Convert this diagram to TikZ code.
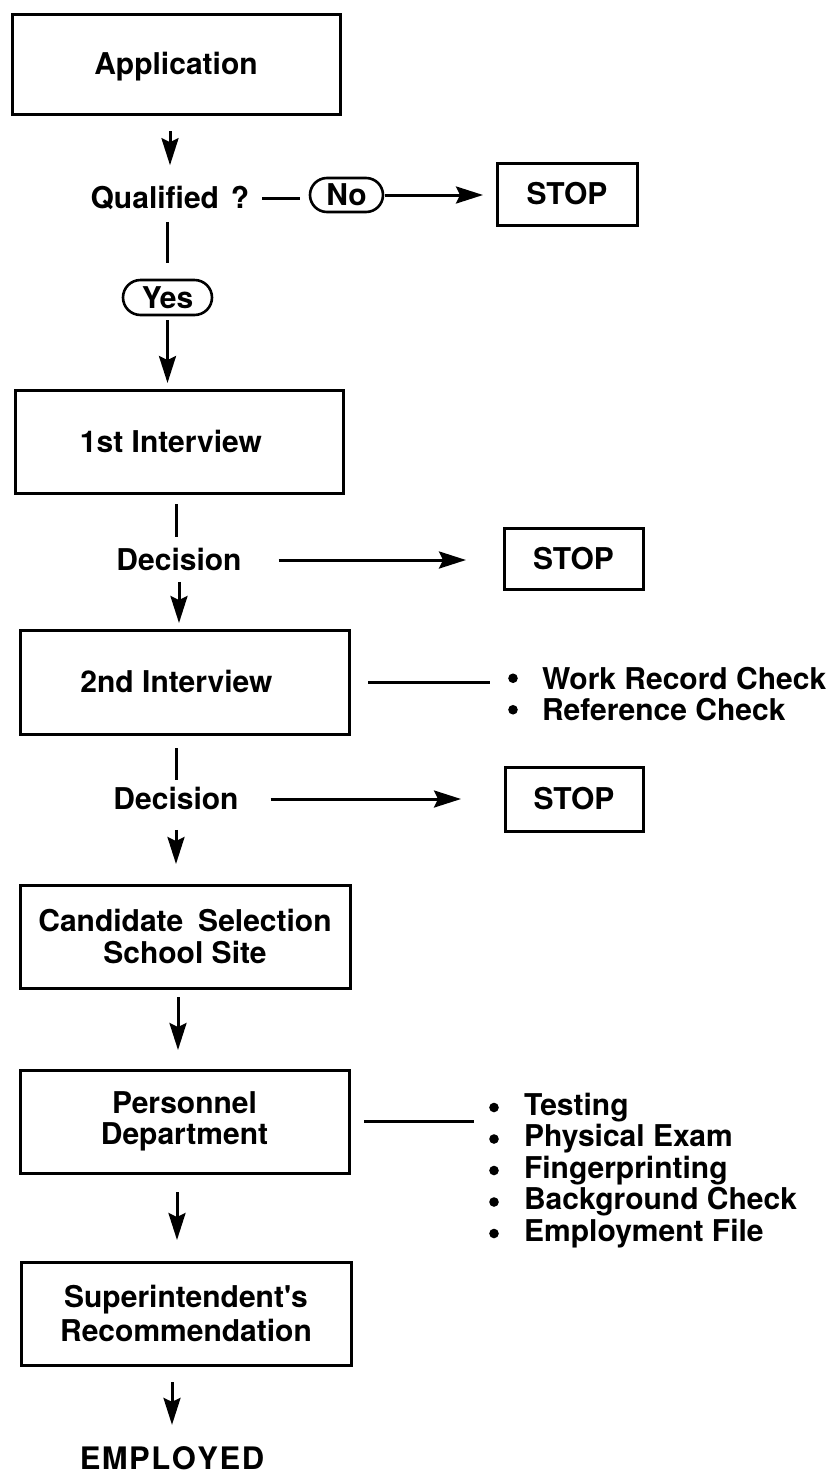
\documentclass[tikz,border=0pt]{standalone}
\usepackage{fontspec}
\setmainfont{TeX Gyre Heros}
% same face without the TeX quote mapping, for a straight apostrophe
\newfontfamily\straightheros{TeX Gyre Heros}
\usetikzlibrary{arrows.meta,shapes.misc}

\begin{document}
\begin{tikzpicture}[x=1pt,y=-1pt,
  font=\fontsize{30}{31.5}\selectfont\bfseries,
  every node/.style={inner sep=0pt, outer sep=0pt},
  link/.style={line width=3pt},
  arr/.style={line width=3pt, -{Stealth[length=27pt,width=17pt,inset=4pt]}},
  box/.style={draw, line width=3pt, rectangle, align=center},
  onebox/.style={box, text height=21.6pt, text depth=0pt},
  pill/.style={draw, line width=2.6pt, rounded rectangle, minimum height=34pt,
               text height=21.6pt, text depth=0pt},
  lbl/.style={text height=21.6pt, text depth=0pt},
  items/.style={align=left, anchor=west},
  dot/.style={fill=black}
]
\useasboundingbox[fill=white] (0,0) rectangle (836,1476);

% process boxes
\node[onebox, minimum width=328pt, minimum height=100pt] (app)  at (176,64)    {Application};
\node[onebox, minimum width=328pt, minimum height=103pt] (int1) at (179,441.5) {1st Interview\hspace*{16pt}};
\node[onebox, minimum width=329pt, minimum height=104pt] (int2) at (184.5,682) {2nd Interview\hspace*{16pt}};
\node[box, minimum width=330pt, minimum height=103pt] (cand) at (185,936.5)
     {Candidate\hspace{0.5em}Selection\\School Site};
\node[box, minimum width=329pt, minimum height=103pt] (pers) at (184.5,1121.5)
     {Personnel\\Department};
\node[box, minimum width=330pt, minimum height=103pt, font=\fontsize{30}{34}\selectfont\bfseries]
     (sup) at (186,1313.5) {Superintendent{\straightheros\bfseries '}s\\Recommendation};

% stop boxes
\node[onebox, minimum width=140pt, minimum height=62pt] (stop1) at (567,194)   {STOP};
\node[onebox, minimum width=139pt, minimum height=61pt] (stop2) at (573.5,558.5) {STOP};
\node[onebox, minimum width=138pt, minimum height=64pt] (stop3) at (574,799)   {STOP};

% decision labels and answers
\node[lbl] (qual) at (170,198) {Qualified\hspace{0.4em}?};
\node[pill, minimum width=73pt] (no)  at (346.5,195)  {No};
\node[pill, minimum width=89pt, minimum height=35pt] (yes) at (167.5,297.5) {Yes};
\node[lbl] (dec1) at (179,560) {Decision};
\node[lbl] (dec2) at (176,799) {Decision};
\node[lbl, text height=22.3pt, font=\fontsize{31}{34}\selectfont\bfseries] (emp) at (172,1458) {E\kern1.5pt M\kern1.5pt P\kern1.5pt L\kern1.5pt O\kern1.5pt Y\kern1.5pt E\kern1.5pt D};

% side lists (text), with their bullets
\node[items] (list1) at (542,694)
  {Work Record Check\\Reference Check};
\foreach \yy in {678.25,709.75} \fill[dot] (513,\yy) circle (4.8pt);

\node[items] (list2) at (524,1170.5)
  {Testing\\Physical Exam\\Fingerprinting\\Background Check\\Employment File};
\foreach \yy in {1107.5,1139,1170.5,1202,1233.5} \fill[dot] (494,\yy) circle (4.8pt);

% connectors
\draw[arr, shorten <=17pt, shorten >=22pt] (app.south -| qual) -- (qual.north);
\draw[link, shorten <=13pt, shorten >=10pt] (qual.east) -- (qual.east -| no.west);
\draw[arr, shorten <=2pt, shorten >=14pt] (no.east) -- (stop1.west |- no.east);
\draw[link, shorten <=13pt, shorten >=17pt] (qual.south -| yes.north) -- (yes.north);
\draw[arr, shorten <=5pt, shorten >=7pt] (yes.south) -- (yes.south |- int1.north);

\draw[link, shorten <=11pt, shorten >=12pt] ([xshift=-3pt]int1.south -| dec1) -- ([xshift=-3pt]dec1.north);
\draw[arr, shorten <=37pt, shorten >=38pt] (dec1.east) -- (stop2.west |- dec1.east);
\draw[arr, shorten <=11pt, shorten >=7pt] (dec1.south) -- (dec1.south |- int2.north);

\draw[link, shorten <=19pt, shorten >=52pt] (int2.east) -- (int2.east -| list1.west);
\draw[link, shorten <=14pt, shorten >=8pt] (int2.south -| dec2) -- (dec2.north);
\draw[arr, shorten <=32pt, shorten >=44pt] (dec2.east) -- (stop3.west |- dec2.east);
\draw[arr, shorten <=20pt, shorten >=21pt] (dec2.south) -- (dec2.south |- cand.north);

\draw[arr, shorten <=9pt, shorten >=20pt] ([xshift=-7pt]cand.south) -- ([xshift=-7pt]cand.south |- pers.north);
\draw[link, shorten <=15pt, shorten >=50pt] (pers.east) -- (pers.east -| list2.west);
\draw[arr, shorten <=19pt, shorten >=22pt] ([xshift=-7.5pt]pers.south) -- ([xshift=-7.5pt]pers.south |- sup.north);
\draw[arr, shorten <=17pt, shorten >=22pt] (sup.south -| emp) -- (emp.north);
\end{tikzpicture}
\end{document}
